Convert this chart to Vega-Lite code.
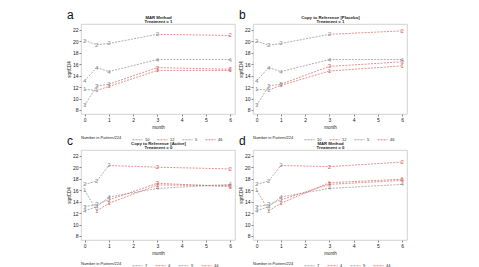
{
  "$schema": "https://vega.github.io/schema/vega-lite/v6.json",
  "padding": {"left": 66, "top": 8, "right": 0, "bottom": 0},
  "background": "white",
  "data": {"values": [
    {"panel": "a", "pattern": "1", "month": 0, "value": 11.6, "status": "obs"},
    {"panel": "a", "pattern": "1", "month": 0.5, "value": 11.4, "status": "obs"},
    {"panel": "a", "pattern": "1", "month": 1, "value": 12.1, "status": "imp"},
    {"panel": "a", "pattern": "1", "month": 3, "value": 14.9, "status": "imp"},
    {"panel": "a", "pattern": "1", "month": 6, "value": 14.9, "status": "imp"},
    {"panel": "a", "pattern": "2", "month": 0, "value": 20.1, "status": "obs"},
    {"panel": "a", "pattern": "2", "month": 0.5, "value": 19.4, "status": "obs"},
    {"panel": "a", "pattern": "2", "month": 1, "value": 19.6, "status": "obs"},
    {"panel": "a", "pattern": "2", "month": 3, "value": 21.2, "status": "obs"},
    {"panel": "a", "pattern": "2", "month": 6, "value": 21.0, "status": "imp"},
    {"panel": "a", "pattern": "3", "month": 0, "value": 8.8, "status": "obs"},
    {"panel": "a", "pattern": "3", "month": 0.5, "value": 12.2, "status": "obs"},
    {"panel": "a", "pattern": "3", "month": 1, "value": 12.5, "status": "obs"},
    {"panel": "a", "pattern": "3", "month": 3, "value": 15.4, "status": "imp"},
    {"panel": "a", "pattern": "3", "month": 6, "value": 15.1, "status": "imp"},
    {"panel": "a", "pattern": "4", "month": 0, "value": 13.1, "status": "obs"},
    {"panel": "a", "pattern": "4", "month": 0.5, "value": 15.4, "status": "obs"},
    {"panel": "a", "pattern": "4", "month": 1, "value": 14.7, "status": "obs"},
    {"panel": "a", "pattern": "4", "month": 3, "value": 16.8, "status": "obs"},
    {"panel": "a", "pattern": "4", "month": 6, "value": 16.8, "status": "obs"},

    {"panel": "b", "pattern": "1", "month": 0, "value": 11.6, "status": "obs"},
    {"panel": "b", "pattern": "1", "month": 0.5, "value": 11.5, "status": "obs"},
    {"panel": "b", "pattern": "1", "month": 1, "value": 12.3, "status": "imp"},
    {"panel": "b", "pattern": "1", "month": 3, "value": 14.8, "status": "imp"},
    {"panel": "b", "pattern": "1", "month": 6, "value": 15.7, "status": "imp"},
    {"panel": "b", "pattern": "2", "month": 0, "value": 20.0, "status": "obs"},
    {"panel": "b", "pattern": "2", "month": 0.5, "value": 19.3, "status": "obs"},
    {"panel": "b", "pattern": "2", "month": 1, "value": 19.6, "status": "obs"},
    {"panel": "b", "pattern": "2", "month": 3, "value": 21.2, "status": "obs"},
    {"panel": "b", "pattern": "2", "month": 6, "value": 21.8, "status": "imp"},
    {"panel": "b", "pattern": "3", "month": 0, "value": 8.8, "status": "obs"},
    {"panel": "b", "pattern": "3", "month": 0.5, "value": 12.2, "status": "obs"},
    {"panel": "b", "pattern": "3", "month": 1, "value": 12.5, "status": "obs"},
    {"panel": "b", "pattern": "3", "month": 3, "value": 15.6, "status": "imp"},
    {"panel": "b", "pattern": "3", "month": 6, "value": 16.4, "status": "imp"},
    {"panel": "b", "pattern": "4", "month": 0, "value": 13.1, "status": "obs"},
    {"panel": "b", "pattern": "4", "month": 0.5, "value": 15.4, "status": "obs"},
    {"panel": "b", "pattern": "4", "month": 1, "value": 14.7, "status": "obs"},
    {"panel": "b", "pattern": "4", "month": 3, "value": 16.8, "status": "obs"},
    {"panel": "b", "pattern": "4", "month": 6, "value": 16.8, "status": "obs"},

    {"panel": "c", "pattern": "1", "month": 0, "value": 16.0, "status": "obs"},
    {"panel": "c", "pattern": "1", "month": 0.5, "value": 12.4, "status": "obs"},
    {"panel": "c", "pattern": "1", "month": 1, "value": 13.7, "status": "imp"},
    {"panel": "c", "pattern": "1", "month": 3, "value": 16.9, "status": "imp"},
    {"panel": "c", "pattern": "1", "month": 6, "value": 16.8, "status": "imp"},
    {"panel": "c", "pattern": "2", "month": 0, "value": 17.0, "status": "obs"},
    {"panel": "c", "pattern": "2", "month": 0.5, "value": 17.6, "status": "obs"},
    {"panel": "c", "pattern": "2", "month": 1, "value": 20.3, "status": "obs"},
    {"panel": "c", "pattern": "2", "month": 3, "value": 20.0, "status": "imp"},
    {"panel": "c", "pattern": "2", "month": 6, "value": 19.7, "status": "imp"},
    {"panel": "c", "pattern": "3", "month": 0, "value": 13.1, "status": "obs"},
    {"panel": "c", "pattern": "3", "month": 0.5, "value": 13.5, "status": "obs"},
    {"panel": "c", "pattern": "3", "month": 1, "value": 14.3, "status": "obs"},
    {"panel": "c", "pattern": "3", "month": 3, "value": 17.2, "status": "imp"},
    {"panel": "c", "pattern": "3", "month": 6, "value": 16.6, "status": "imp"},
    {"panel": "c", "pattern": "4", "month": 0, "value": 12.4, "status": "obs"},
    {"panel": "c", "pattern": "4", "month": 0.5, "value": 13.1, "status": "obs"},
    {"panel": "c", "pattern": "4", "month": 1, "value": 14.8, "status": "obs"},
    {"panel": "c", "pattern": "4", "month": 3, "value": 16.3, "status": "obs"},
    {"panel": "c", "pattern": "4", "month": 6, "value": 17.0, "status": "obs"},

    {"panel": "d", "pattern": "1", "month": 0, "value": 16.0, "status": "obs"},
    {"panel": "d", "pattern": "1", "month": 0.5, "value": 12.4, "status": "obs"},
    {"panel": "d", "pattern": "1", "month": 1, "value": 13.7, "status": "imp"},
    {"panel": "d", "pattern": "1", "month": 3, "value": 17.3, "status": "imp"},
    {"panel": "d", "pattern": "1", "month": 6, "value": 17.9, "status": "imp"},
    {"panel": "d", "pattern": "2", "month": 0, "value": 17.0, "status": "obs"},
    {"panel": "d", "pattern": "2", "month": 0.5, "value": 17.6, "status": "obs"},
    {"panel": "d", "pattern": "2", "month": 1, "value": 20.3, "status": "obs"},
    {"panel": "d", "pattern": "2", "month": 3, "value": 20.1, "status": "imp"},
    {"panel": "d", "pattern": "2", "month": 6, "value": 20.9, "status": "imp"},
    {"panel": "d", "pattern": "3", "month": 0, "value": 13.1, "status": "obs"},
    {"panel": "d", "pattern": "3", "month": 0.5, "value": 13.5, "status": "obs"},
    {"panel": "d", "pattern": "3", "month": 1, "value": 14.3, "status": "obs"},
    {"panel": "d", "pattern": "3", "month": 3, "value": 17.0, "status": "imp"},
    {"panel": "d", "pattern": "3", "month": 6, "value": 17.7, "status": "imp"},
    {"panel": "d", "pattern": "4", "month": 0, "value": 12.4, "status": "obs"},
    {"panel": "d", "pattern": "4", "month": 0.5, "value": 13.1, "status": "obs"},
    {"panel": "d", "pattern": "4", "month": 1, "value": 14.8, "status": "obs"},
    {"panel": "d", "pattern": "4", "month": 3, "value": 16.3, "status": "obs"},
    {"panel": "d", "pattern": "4", "month": 6, "value": 17.0, "status": "obs"}
  ]},
  "columns": 2,
  "spacing": {"column": 2, "row": -9},
  "resolve": {"scale": {"color": "independent"}, "legend": {"color": "independent"}},
  "concat": [
    {
      "width": 154, "height": 90,
      "title": {"text": "a"},
      "transform": [
        {"filter": "datum.panel == 'a'"},
        {"window": [{"op": "lead", "field": "month", "as": "month2"}, {"op": "lead", "field": "value", "as": "value2"}, {"op": "lead", "field": "status", "as": "status2"}], "groupby": ["pattern"], "sort": [{"field": "month"}]}
      ],
      "resolve": {"axis": {"x": "independent"}},
      "layer": [
        {
          "transform": [{"filter": "datum.month2 != null"}],
          "mark": {"type": "rule", "strokeDash": [2, 1.2], "strokeWidth": 0.7},
          "encoding": {
            "x": {"field": "month", "type": "quantitative", "scale": {"domain": [-0.15, 6.2], "nice": false, "zero": false}, "axis": {"title": "month", "values": [0, 1, 2, 3, 4, 5, 6]}},
            "y": {"field": "value", "type": "quantitative", "scale": {"domain": [7.3, 23], "nice": false, "zero": false}, "axis": {"title": "sqrtCD4", "values": [8, 10, 12, 14, 16, 18, 20, 22], "labelOverlap": false}},
            "x2": {"field": "month2"},
            "y2": {"field": "value2"},
            "color": {"field": "status2", "type": "nominal", "scale": {"domain": ["obs", "imp", "1", "2", "3", "4"], "range": ["#8c8c8c", "#d9625f", "#8c8c8c", "#d9625f", "#8c8c8c", "#d9625f"]},
              "legend": {"title": "Number in Pattern/224", "values": ["1", "2", "3", "4"], "labelExpr": "{'1': '10', '2': '12', '3': '5', '4': '46'}[datum.label]"}}
          }
        },
        {
          "mark": {"type": "text", "fontSize": 6},
          "encoding": {
            "x": {"field": "month", "type": "quantitative", "axis": {"orient": "top", "title": ["MAR Method", "Treatment =      1"], "labels": false, "ticks": false, "domain": false}},
            "y": {"field": "value", "type": "quantitative", "axis": {"title": "sqrtCD4", "values": [8, 10, 12, 14, 16, 18, 20, 22], "labelOverlap": false}},
            "text": {"field": "pattern"},
            "color": {"field": "status", "type": "nominal"}
          }
        }
      ]
    },
    {
      "width": 154, "height": 90,
      "title": {"text": "b"},
      "transform": [
        {"filter": "datum.panel == 'b'"},
        {"window": [{"op": "lead", "field": "month", "as": "month2"}, {"op": "lead", "field": "value", "as": "value2"}, {"op": "lead", "field": "status", "as": "status2"}], "groupby": ["pattern"], "sort": [{"field": "month"}]}
      ],
      "resolve": {"axis": {"x": "independent"}},
      "layer": [
        {
          "transform": [{"filter": "datum.month2 != null"}],
          "mark": {"type": "rule", "strokeDash": [2, 1.2], "strokeWidth": 0.7},
          "encoding": {
            "x": {"field": "month", "type": "quantitative", "scale": {"domain": [-0.15, 6.2], "nice": false, "zero": false}, "axis": {"title": "month", "values": [0, 1, 2, 3, 4, 5, 6]}},
            "y": {"field": "value", "type": "quantitative", "scale": {"domain": [7.3, 23], "nice": false, "zero": false}, "axis": {"title": "sqrtCD4", "values": [8, 10, 12, 14, 16, 18, 20, 22], "labelOverlap": false}},
            "x2": {"field": "month2"},
            "y2": {"field": "value2"},
            "color": {"field": "status2", "type": "nominal", "scale": {"domain": ["obs", "imp", "1", "2", "3", "4"], "range": ["#8c8c8c", "#d9625f", "#8c8c8c", "#d9625f", "#8c8c8c", "#d9625f"]},
              "legend": {"title": "Number in Pattern/224", "values": ["1", "2", "3", "4"], "labelExpr": "{'1': '10', '2': '12', '3': '5', '4': '46'}[datum.label]"}}
          }
        },
        {
          "mark": {"type": "text", "fontSize": 6},
          "encoding": {
            "x": {"field": "month", "type": "quantitative", "axis": {"orient": "top", "title": ["Copy to Reference [Placebo]", "Treatment =      1"], "labels": false, "ticks": false, "domain": false}},
            "y": {"field": "value", "type": "quantitative", "axis": {"title": "sqrtCD4", "values": [8, 10, 12, 14, 16, 18, 20, 22], "labelOverlap": false}},
            "text": {"field": "pattern"},
            "color": {"field": "status", "type": "nominal"}
          }
        }
      ]
    },
    {
      "width": 154, "height": 90,
      "title": {"text": "c"},
      "transform": [
        {"filter": "datum.panel == 'c'"},
        {"window": [{"op": "lead", "field": "month", "as": "month2"}, {"op": "lead", "field": "value", "as": "value2"}, {"op": "lead", "field": "status", "as": "status2"}], "groupby": ["pattern"], "sort": [{"field": "month"}]}
      ],
      "resolve": {"axis": {"x": "independent"}},
      "layer": [
        {
          "transform": [{"filter": "datum.month2 != null"}],
          "mark": {"type": "rule", "strokeDash": [2, 1.2], "strokeWidth": 0.7},
          "encoding": {
            "x": {"field": "month", "type": "quantitative", "scale": {"domain": [-0.15, 6.2], "nice": false, "zero": false}, "axis": {"title": "month", "values": [0, 1, 2, 3, 4, 5, 6]}},
            "y": {"field": "value", "type": "quantitative", "scale": {"domain": [7.3, 23], "nice": false, "zero": false}, "axis": {"title": "sqrtCD4", "values": [8, 10, 12, 14, 16, 18, 20, 22], "labelOverlap": false}},
            "x2": {"field": "month2"},
            "y2": {"field": "value2"},
            "color": {"field": "status2", "type": "nominal", "scale": {"domain": ["obs", "imp", "1", "2", "3", "4"], "range": ["#8c8c8c", "#d9625f", "#8c8c8c", "#d9625f", "#8c8c8c", "#d9625f"]},
              "legend": {"title": "Number in Pattern/224", "values": ["1", "2", "3", "4"], "labelExpr": "{'1': '7', '2': '4', '3': '9', '4': '44'}[datum.label]"}}
          }
        },
        {
          "mark": {"type": "text", "fontSize": 6},
          "encoding": {
            "x": {"field": "month", "type": "quantitative", "axis": {"orient": "top", "title": ["Copy to Reference [Active]", "Treatment =      0"], "labels": false, "ticks": false, "domain": false}},
            "y": {"field": "value", "type": "quantitative", "axis": {"title": "sqrtCD4", "values": [8, 10, 12, 14, 16, 18, 20, 22], "labelOverlap": false}},
            "text": {"field": "pattern"},
            "color": {"field": "status", "type": "nominal"}
          }
        }
      ]
    },
    {
      "width": 154, "height": 90,
      "title": {"text": "d"},
      "transform": [
        {"filter": "datum.panel == 'd'"},
        {"window": [{"op": "lead", "field": "month", "as": "month2"}, {"op": "lead", "field": "value", "as": "value2"}, {"op": "lead", "field": "status", "as": "status2"}], "groupby": ["pattern"], "sort": [{"field": "month"}]}
      ],
      "resolve": {"axis": {"x": "independent"}},
      "layer": [
        {
          "transform": [{"filter": "datum.month2 != null"}],
          "mark": {"type": "rule", "strokeDash": [2, 1.2], "strokeWidth": 0.7},
          "encoding": {
            "x": {"field": "month", "type": "quantitative", "scale": {"domain": [-0.15, 6.2], "nice": false, "zero": false}, "axis": {"title": "month", "values": [0, 1, 2, 3, 4, 5, 6]}},
            "y": {"field": "value", "type": "quantitative", "scale": {"domain": [7.3, 23], "nice": false, "zero": false}, "axis": {"title": "sqrtCD4", "values": [8, 10, 12, 14, 16, 18, 20, 22], "labelOverlap": false}},
            "x2": {"field": "month2"},
            "y2": {"field": "value2"},
            "color": {"field": "status2", "type": "nominal", "scale": {"domain": ["obs", "imp", "1", "2", "3", "4"], "range": ["#8c8c8c", "#d9625f", "#8c8c8c", "#d9625f", "#8c8c8c", "#d9625f"]},
              "legend": {"title": "Number in Pattern/224", "values": ["1", "2", "3", "4"], "labelExpr": "{'1': '7', '2': '4', '3': '9', '4': '44'}[datum.label]"}}
          }
        },
        {
          "mark": {"type": "text", "fontSize": 6},
          "encoding": {
            "x": {"field": "month", "type": "quantitative", "axis": {"orient": "top", "title": ["MAR Method", "Treatment =      0"], "labels": false, "ticks": false, "domain": false}},
            "y": {"field": "value", "type": "quantitative", "axis": {"title": "sqrtCD4", "values": [8, 10, 12, 14, 16, 18, 20, 22], "labelOverlap": false}},
            "text": {"field": "pattern"},
            "color": {"field": "status", "type": "nominal"}
          }
        }
      ]
    }
  ],
  "config": {
    "font": "Liberation Sans",
    "view": {"stroke": "#c8c8c8", "strokeWidth": 0.8},
    "title": {"anchor": "start", "frame": "group", "fontSize": 12, "fontWeight": "normal", "baseline": "alphabetic", "dx": -14, "dy": 11, "offset": 0, "color": "#111"},
    "axis": {"labelFontSize": 5, "titleFontSize": 4.5, "titleFontWeight": "normal", "labelPadding": 1, "titlePadding": 2, "tickSize": 2, "tickColor": "#888", "domain": false, "grid": false, "labelColor": "#222", "titleColor": "#222", "labelOverlap": false, "labelBound": false, "labelFlush": false},
    "axisTop": {"titleFontSize": 4.3, "titleFontWeight": "bold", "titleLineHeight": 4.8, "titleY": -5, "titleBaseline": "bottom"},
    "axisY": {"titlePadding": 1},
    "legend": {"orient": "bottom", "direction": "horizontal", "titleOrient": "left", "titleFontSize": 4, "titleFontWeight": "normal", "titleColor": "#222", "labelFontSize": 4, "labelColor": "#222", "symbolType": "stroke", "symbolStrokeWidth": 0.8, "symbolDash": [2, 1], "symbolSize": 100, "columnPadding": 5, "labelOffset": 2, "offset": 5, "padding": 0, "titlePadding": 10}
  }
}
